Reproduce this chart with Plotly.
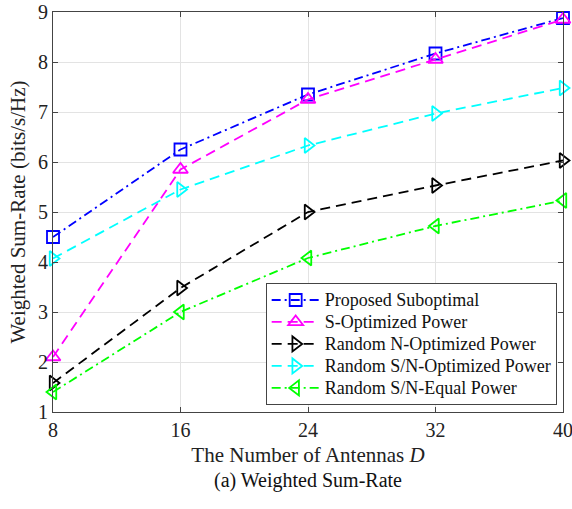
import plotly.graph_objects as go

antennas = [8, 16, 24, 32, 40]
proposed = [4.50, 6.25, 7.35, 8.17, 8.88]
s_opt = [2.10, 5.85, 7.25, 8.05, 8.85]
rand_n_opt = [1.58, 3.48, 5.00, 5.53, 6.03]
rand_sn_opt = [4.07, 5.45, 6.33, 6.97, 7.48]
rand_sn_eq = [1.40, 3.00, 4.08, 4.72, 5.23]

DASH = "10px,6px"
DASHDOT = "9px,4px,2px,4px"

series = [
    ("Proposed Suboptimal", proposed, "#0000ff", DASHDOT, "square-open", 12),
    ("S-Optimized Power", s_opt, "#ff00ff", DASH, "triangle-up-open", 13),
    ("Random N-Optimized Power", rand_n_opt, "#000000", DASH, "triangle-right-open", 13),
    ("Random S/N-Optimized Power", rand_sn_opt, "#00ffff", DASH, "triangle-right-open", 13),
    ("Random S/N-Equal Power", rand_sn_eq, "#00ff00", DASHDOT, "triangle-left-open", 13),
]

FONT = "Liberation Serif, Times New Roman, serif"

fig = go.Figure()
for name, vals, col, dash, sym, msize in series:
    fig.add_trace(go.Scatter(
        x=antennas, y=vals, name="<span style='font-size:18px'>" + name + "</span>",
        mode="lines+markers",
        line=dict(color=col, dash=dash, width=1.8),
        marker=dict(symbol=sym, size=msize, color=col, line=dict(color=col, width=1.8)),
        cliponaxis=False,
    ))

axis_common = dict(
    showline=True, linecolor="#444", linewidth=1, mirror="ticks",
    ticks="inside", ticklen=5, tickcolor="#444",
    showgrid=True, gridcolor="#e3e3e3", gridwidth=1, zeroline=False,
    tickfont=dict(family=FONT, size=20, color="#222"),
    automargin=False, ticklabeloverflow="allow",
)

fig.update_layout(
    width=572, height=509,
    margin=dict(l=53, r=9, t=12, b=97, autoexpand=False),
    paper_bgcolor="white", plot_bgcolor="white",
    font=dict(family=FONT, color="#222"),
    showlegend=True,
    legend=dict(
        x=0.417, y=0.3225, xanchor="left", yanchor="top",
        bgcolor="white", bordercolor="#444", borderwidth=1,
        font=dict(family=FONT, size=14.6, color="#111"),
        tracegroupgap=0, itemwidth=48,
    ),
    xaxis=dict(axis_common, range=[8, 40], tickvals=antennas,
               title=dict(text="The Number of Antennas <i>D</i>", font=dict(family=FONT, size=21), standoff=7)),
    yaxis=dict(axis_common, range=[1, 9], tickvals=list(range(1, 10)),
               title=dict(text="Weighted Sum-Rate (bits/s/Hz)", font=dict(family=FONT, size=21), standoff=6)),
)

fig.add_annotation(
    text="(a) Weighted Sum-Rate", xref="paper", yref="paper",
    x=0.5, y=-0.172, yanchor="middle", showarrow=False,
    font=dict(family=FONT, size=20, color="#111"),
)

fig.write_html("out.html", config={"displayModeBar": False},
               post_script="document.body.style.margin='0';")
